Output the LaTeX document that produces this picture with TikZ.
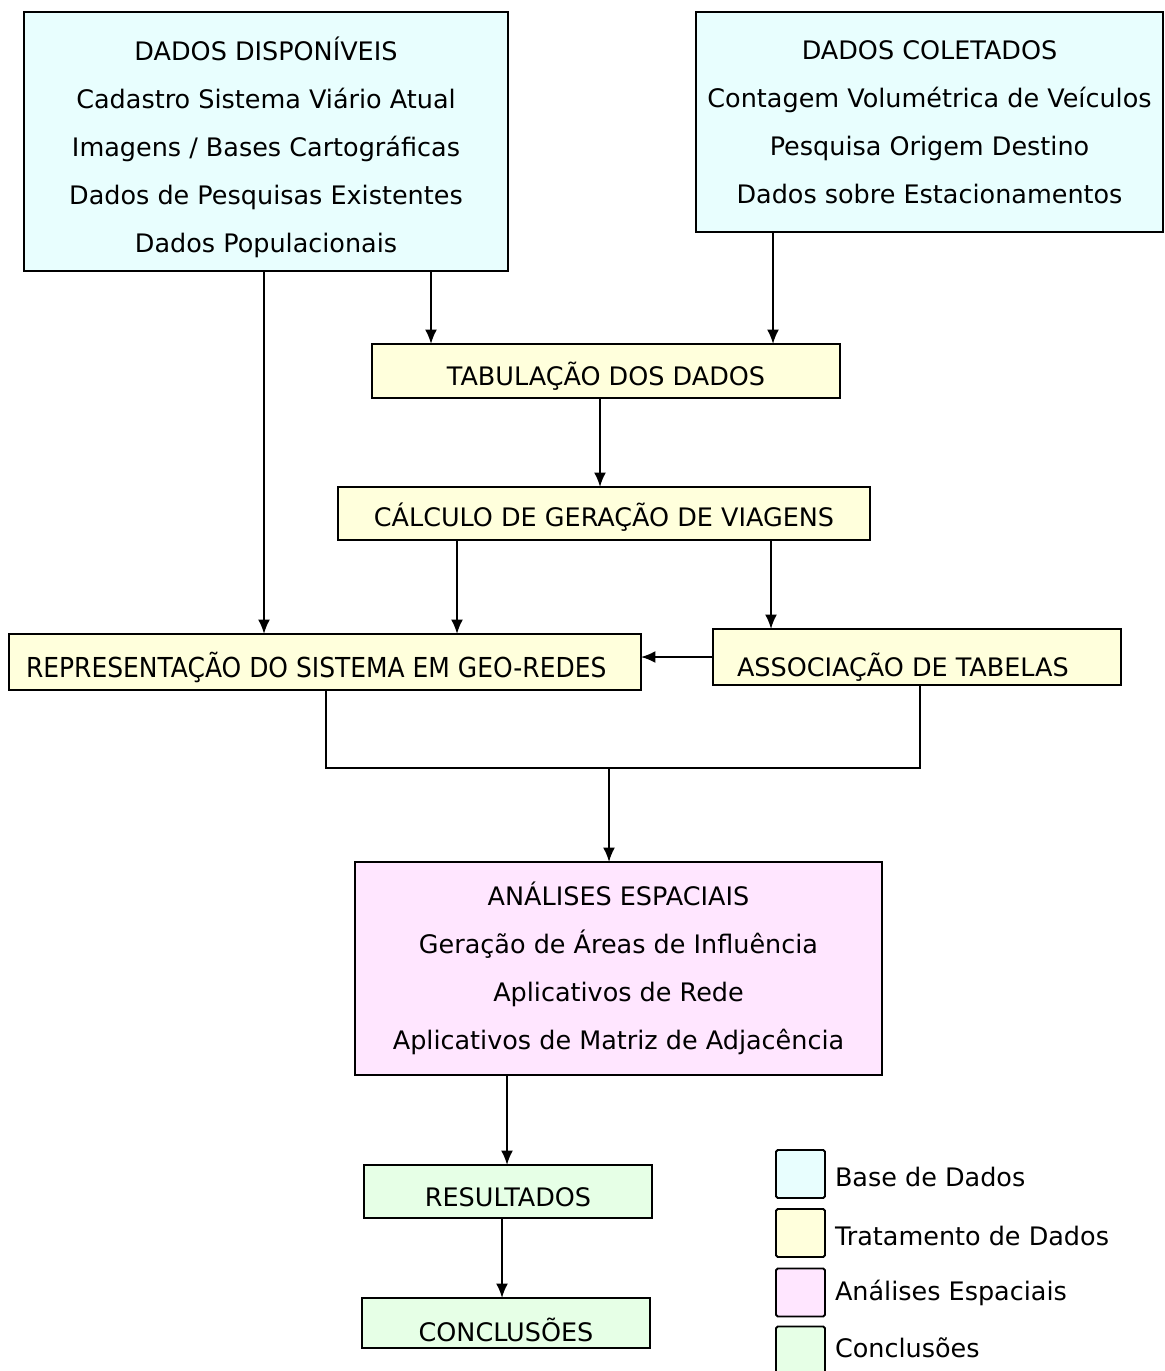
\documentclass[tikz,border=0pt]{standalone}
\usepackage{fontspec}
\setmainfont{DejaVu Sans}
\usepackage{tikz}
\usetikzlibrary{shapes,arrows,arrows.meta,positioning,calc}

\definecolor{cbase}{HTML}{E8FEFE}
\definecolor{ctrat}{HTML}{FFFFDC}
\definecolor{canal}{HTML}{FFE6FF}
\definecolor{cconc}{HTML}{E6FFE6}
\newcommand{\lowered}[2]{\raisebox{-#1}[\height][\depth]{#2}}

\begin{document}
\begin{tikzpicture}[x=0.02cm,y=-0.02cm,every node/.style={outer sep=0pt,inner sep=0pt}]
\tikzstyle{box}=[draw,line width=1.1pt,align=center,
font=\fontsize{14.5}{27.3}\selectfont]
\tikzstyle{flow}=[line width=1.1pt,-{Latex[length=0.29cm,width=0.24cm]}]
\tikzstyle{mergeline}=[line width=0.6pt]
\tikzstyle{key}=[draw,line width=1.1pt,rounded corners=1pt,minimum width=0.98cm,
minimum height=0.96cm]
\tikzstyle{keytext}=[anchor=west,font=\fontsize{14.5}{16}\selectfont]
\useasboundingbox (0,0) rectangle (1164,1371);
%
\node (dispo) [box,fill=cbase,minimum width=9.68cm,minimum height=5.18cm] at (266,141.5)
{\lowered{3pt}{\begin{tabular}{@{}c@{}}DADOS DISPONÍVEIS\\Cadastro Sistema Viário Atual\\
Imagens / Bases Cartográficas\\Dados de Pesquisas Existentes\\Dados Populacionais\end{tabular}}};
\node (colet) [box,fill=cbase,minimum width=9.34cm,minimum height=4.40cm] at (929.5,122)
{DADOS COLETADOS\\Contagem Volumétrica de Veículos\\Pesquisa Origem Destino\\
Dados sobre Estacionamentos};
\node (tab) [box,fill=ctrat,minimum width=9.36cm,minimum height=1.08cm] at (606,371)
{\lowered{3pt}{TABULAÇÃO DOS DADOS}};
\node (calc) [box,fill=ctrat,minimum width=10.64cm,minimum height=1.06cm] at (604,513.5)
{\lowered{2pt}{CÁLCULO DE GERAÇÃO DE VIAGENS}};
\node (rep) [box,fill=ctrat,minimum width=12.64cm,minimum height=1.12cm] at (325,662)
{\lowered{3pt}{\hspace*{-10pt}\scalebox{0.98}[1.08]{REPRESENTAÇÃO DO SISTEMA EM GEO-REDES}}};
\node (assoc) [box,fill=ctrat,minimum width=8.16cm,minimum height=1.12cm] at (917,657)
{\lowered{6pt}{\hspace*{-16pt}ASSOCIAÇÃO DE TABELAS}};
\node (anal) [box,fill=canal,minimum width=10.54cm,minimum height=4.26cm] at (618.5,968.5)
{ANÁLISES ESPACIAIS\\Geração de Áreas de Influência\\Aplicativos de Rede\\
Aplicativos de Matriz de Adjacência};
\node (res) [box,fill=cconc,minimum width=5.76cm,minimum height=1.06cm] at (508,1191.5)
{\lowered{3pt}{RESULTADOS}};
\node (conc) [box,fill=cconc,minimum width=5.76cm,minimum height=1.00cm] at (506,1323)
{\lowered{4pt}{CONCLUSÕES}};
%
\coordinate (xa) at (431,0);
\coordinate (xb) at (773,0);
\coordinate (xt) at (600,0);
\coordinate (xr) at (264,0);
\coordinate (xc) at (457,0);
\coordinate (xd) at (771,0);
\coordinate (xe) at (326,768);
\coordinate (xf) at (920,768);
\coordinate (mid) at (609,768);
\coordinate (xg) at (507,0);
\coordinate (xh) at (502,0);
\draw [flow] (dispo.south -| xa) -- (tab.north -| xa);
\draw [flow] (colet.south -| xb) -- (tab.north -| xb);
\draw [flow] (tab.south -| xt) -- (calc.north -| xt);
\draw [flow] (dispo.south -| xr) -- (rep.north -| xr);
\draw [flow] (calc.south -| xc) -- (rep.north -| xc);
\draw [flow] (calc.south -| xd) -- (assoc.north -| xd);
\draw [flow] (assoc.west) -- (rep.east |- assoc.west);
\draw [mergeline] (rep.south -| xe) -- (xe) -- (xf) -- (assoc.south -| xf);
\draw [flow] (mid) -- (anal.north -| mid);
\draw [flow] (anal.south -| xg) -- (res.north -| xg);
\draw [flow] (res.south -| xh) -- (conc.north -| xh);
%
\node (k1) [key,fill=cbase] at (800.5,1174) {};
\node (k2) [key,fill=ctrat] at (800.5,1233) {};
\node (k3) [key,fill=canal] at (800.5,1292.5) {};
\node (k4) [key,fill=cconc] at (800.5,1350.5) {};
\node (t1) [keytext] at ($(k1.east)+(10,3)$) {Base de Dados};
\node (t2) [keytext] at ($(k2.east)+(10,3)$) {Tratamento de Dados};
\node (t3) [keytext] at ($(k3.east)+(10,0)$) {Análises Espaciais};
\node (t4) [keytext] at ($(k4.east)+(10,-3)$) {Conclusões};
\end{tikzpicture}
\end{document}
